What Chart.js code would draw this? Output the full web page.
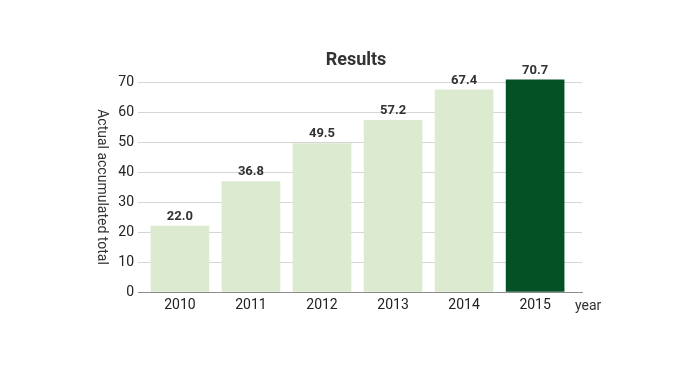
<!DOCTYPE html>
<html lang="en">
<head>
    <meta charset="UTF-8">
    <title>Results</title>
    <script src="https://cdn.jsdelivr.net/npm/chart.js"></script>
    <style>
        body {
            margin: 0;
            background: white;
        }
        .wrap {
            width: 698px;
            height: 380px;
        }
    </style>
</head>
<body>
    <div class="wrap">
        <canvas id="resultsChart" width="698" height="380"></canvas>
    </div>
    <script>
        const years = [2010, 2011, 2012, 2013, 2014, 2015];
        const totals = [22.0, 36.8, 49.5, 57.2, 67.4, 70.7];
        const yTicks = [0, 10, 20, 30, 40, 50, 60, 70];

        const lightGreen = "#dcebd0";
        const darkGreen = "#045126";
        const fontFamily = "Roboto, 'Liberation Sans', sans-serif";

        // title, value labels above the bars, y axis title and the "year" label
        const extraText = {
            id: "extraText",
            afterDatasetsDraw(chart) {
                const ctx = chart.ctx;
                const area = chart.chartArea;
                const meta = chart.getDatasetMeta(0);
                ctx.save();
                ctx.fillStyle = "#333";
                ctx.textAlign = "center";

                ctx.font = "bold 18px " + fontFamily;
                ctx.textBaseline = "middle";
                ctx.fillText("Results", (area.left + area.right) / 2 - 4, 60);

                ctx.font = "bold 13px " + fontFamily;
                ctx.textBaseline = "bottom";
                meta.data.forEach((bar, i) => {
                    ctx.fillText(totals[i].toFixed(1), bar.x, bar.y - 3);
                });

                ctx.font = "14px " + fontFamily;
                ctx.textBaseline = "middle";
                ctx.textAlign = "left";
                ctx.fillText("year", area.right - 7, area.bottom + 14);

                ctx.textAlign = "center";
                ctx.translate(101, (area.top + area.bottom) / 2);
                ctx.rotate(Math.PI / 2);
                ctx.fillText("Actual accumulated total", 0, 0);
                ctx.restore();
            }
        };

        const ctx = document.getElementById("resultsChart").getContext("2d");
        new Chart(ctx, {
            type: "bar",
            data: {
                datasets: [{
                    data: years.map((yr, i) => ({ x: yr, y: totals[i] })),
                    backgroundColor: years.map(yr => yr === 2015 ? darkGreen : lightGreen),
                    barThickness: 58,
                    clip: false
                }]
            },
            options: {
                responsive: false,
                animation: false,
                layout: { padding: { left: 0, right: 116, top: 82, bottom: 0 } },
                plugins: {
                    legend: { display: false },
                    tooltip: { enabled: false },
                    title: { display: false }
                },
                scales: {
                    x: {
                        type: "linear",
                        offset: false,
                        min: 2009.41,
                        max: 2015.66,
                        afterBuildTicks: scale => {
                            scale.ticks = years.map(v => ({ value: v }));
                        },
                        afterFit: scale => { scale.height = 88; },
                        grid: { display: false, drawTicks: false, offset: false },
                        border: { display: true, color: "#8c8c8c", width: 1 },
                        ticks: {
                            color: "#222",
                            padding: 5,
                            font: { family: fontFamily, size: 14 },
                            callback: v => String(v)
                        }
                    },
                    y: {
                        min: 0,
                        max: 70,
                        afterBuildTicks: scale => {
                            scale.ticks = yTicks.map(v => ({ value: v }));
                        },
                        afterFit: scale => { scale.width = 138; },
                        grid: { color: "#d6d6d6", drawTicks: false },
                        border: { display: false },
                        ticks: {
                            color: "#222",
                            padding: 4,
                            font: { family: fontFamily, size: 14 }
                        }
                    }
                }
            },
            plugins: [extraText]
        });
    </script>
</body>
</html>
